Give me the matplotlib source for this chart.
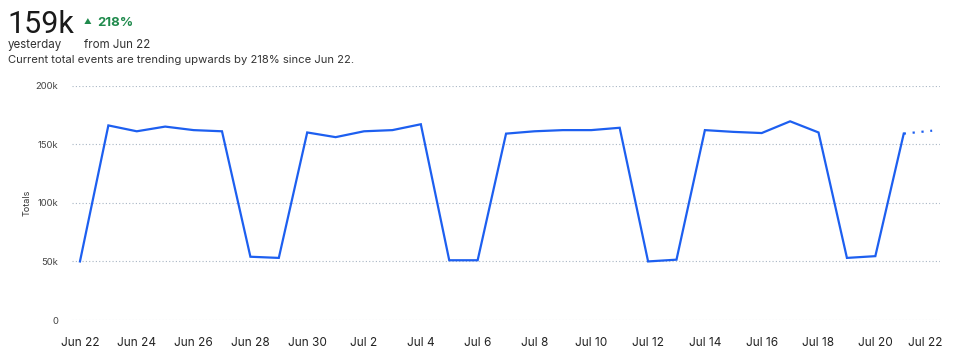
import numpy as np
import matplotlib.pyplot as plt
import matplotlib.transforms as mtransforms
from matplotlib.ticker import FuncFormatter

plt.rcParams['font.family'] = ['Inter', 'DejaVu Sans']

# data
dates = ['Jun 22', 'Jun 23', 'Jun 24', 'Jun 25', 'Jun 26', 'Jun 27', 'Jun 28', 'Jun 29',
         'Jun 30', 'Jul 1', 'Jul 2', 'Jul 3', 'Jul 4', 'Jul 5', 'Jul 6', 'Jul 7', 'Jul 8',
         'Jul 9', 'Jul 10', 'Jul 11', 'Jul 12', 'Jul 13', 'Jul 14', 'Jul 15', 'Jul 16',
         'Jul 17', 'Jul 18', 'Jul 19', 'Jul 20', 'Jul 21', 'Jul 22']
totals = [50000, 166000, 161000, 165000, 162000, 161000, 54000, 53000,
          160000, 156000, 161000, 162000, 167000, 51000, 51000, 159000, 161000,
          162000, 162000, 164000, 50000, 51500, 162000, 160500, 159500,
          169500, 160000, 53000, 54500, 159000, 161500]
n_complete = 30  # last point is the partial day (dotted)

blue = '#1d5ff0'
fig = plt.figure(figsize=(9.55, 3.58), dpi=100)
ax = fig.add_axes([0.0754, 0.106, 0.909, 0.655])

x = np.arange(len(dates))
ax.plot(x[:n_complete], totals[:n_complete], color=blue, lw=1.6, solid_joinstyle='miter')
ax.plot(x[n_complete - 1:], totals[n_complete - 1:], color=blue, lw=1.6, ls=(0, (1, 3)))

ax.set_ylim(0, 200000)
ax.set_xlim(-0.28, len(dates) - 1 + 0.28)
ax.set_yticks([0, 50000, 100000, 150000, 200000])
ax.yaxis.set_major_formatter(FuncFormatter(lambda v, p: '0' if v == 0 else f'{int(v/1000)}k'))
ax.set_xticks(x[::2])
ax.set_xticklabels(dates[::2])
ax.tick_params(axis='y', length=0, pad=10, labelsize=6.8, labelcolor='#444444')
ax.tick_params(axis='x', length=0, pad=12, labelsize=8.5, labelcolor='#222222')
ax.grid(axis='y', ls=(0, (1, 2)), color='#a9b6c4', lw=0.8)
for s in ax.spines.values():
    s.set_visible(False)
ax.set_ylabel('Totals', fontsize=6.5, color='#333333', labelpad=3)

# last date label sits a little left so it stays inside the card
last = ax.get_xticklabels()[-1]
last.set_transform(last.get_transform() + mtransforms.ScaledTranslation(-7 / 100, 0, fig.dpi_scale_trans))

# header text
fig.text(7 / 955, 1 - 33 / 358, '159k', fontsize=22, color='#1a1a1a', family=['Roboto', 'DejaVu Sans'])
fig.text(84 / 955, 1 - 24 / 358, '\u25b2', fontsize=5.5, color='#1f8a4c')
fig.text(97 / 955, 1 - 26 / 358, '218%', fontsize=9.5, color='#1f8a4c', fontweight='bold')
fig.text(8 / 955, 1 - 48 / 358, 'yesterday', fontsize=8.3, color='#333333')
fig.text(84 / 955, 1 - 48 / 358, 'from Jun 22', fontsize=8.3, color='#333333')
fig.text(8 / 955, 1 - 63 / 358, 'Current total events are trending upwards by 218% since Jun 22.',
         fontsize=8.1, color='#333333')

fig.savefig('out.png', dpi=100)
